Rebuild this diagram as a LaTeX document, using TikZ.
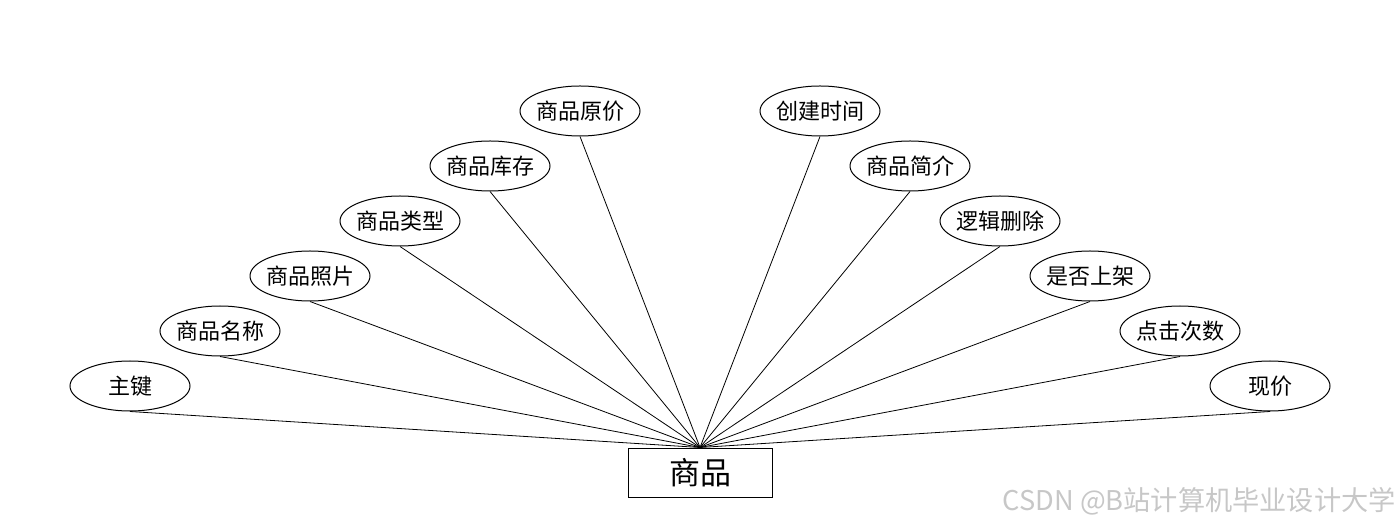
\documentclass[tikz,border=0pt]{standalone}
\usepackage{fontspec}
\setmainfont{Noto Sans CJK SC}
\newfontfamily\cjk{Noto Sans CJK SC}
\usetikzlibrary{shapes.geometric}
\begin{document}
\begin{tikzpicture}[x=0.5pt,y=-0.5pt,
  attr/.style={draw,ellipse,line width=0.5pt,minimum width=60pt,minimum height=25pt,inner xsep=-8pt,inner ysep=0pt,font=\cjk\fontsize{11}{13}\selectfont},
  ent/.style={draw,rectangle,line width=0.5pt,minimum width=72pt,minimum height=24.5pt,inner sep=0pt,font=\cjk\fontsize{15.5}{17}\selectfont},
  conn/.style={line width=0.4pt}]
\useasboundingbox (0,0) rectangle (1400,528);
\node[ent] (e) at (700,472.5) {商品};
\node[attr] (a1) at (130,386) {主键};
\node[attr] (a2) at (220,331) {商品名称};
\node[attr] (a3) at (310,276) {商品照片};
\node[attr] (a4) at (400,221) {商品类型};
\node[attr] (a5) at (490,166) {商品库存};
\node[attr] (a6) at (580,111) {商品原价};
\node[attr] (a7) at (820,111) {创建时间};
\node[attr] (a8) at (910,166) {商品简介};
\node[attr] (a9) at (1000,221) {逻辑删除};
\node[attr] (a10) at (1090,276) {是否上架};
\node[attr] (a11) at (1180,331) {点击次数};
\node[attr] (a12) at (1270,386) {现价};
\foreach \i in {1,...,12} \draw[conn] (a\i.south) -- (e.north);
\node[anchor=east,text=black!22,font=\cjk\fontsize{13.6}{15}\selectfont,inner sep=0pt] (wm) at (1396,501) {CSDN @B站计算机毕业设计大学};
\end{tikzpicture}
\end{document}
